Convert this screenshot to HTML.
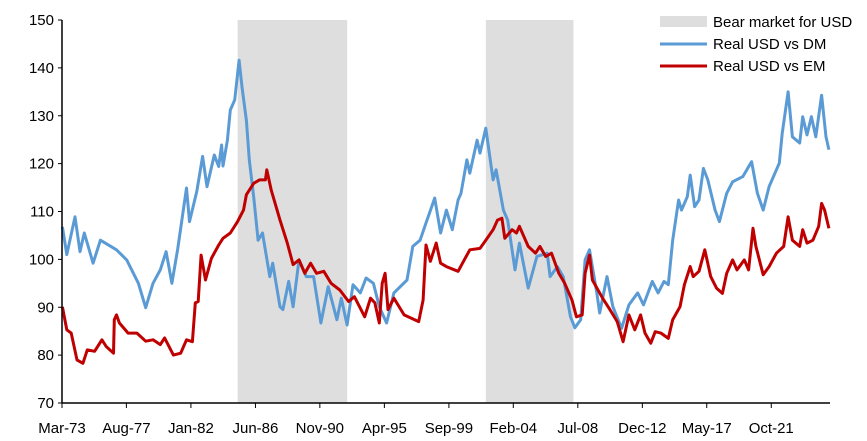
<!DOCTYPE html>
<html><head><meta charset="utf-8">
<style>
html,body{margin:0;padding:0;background:#fff;}
svg{display:block;font-family:"Liberation Sans",Arial,sans-serif;}
</style></head>
<body>
<svg id="chart" width="867" height="441" viewBox="0 0 867 441" xmlns="http://www.w3.org/2000/svg">
<g id="bands"></g>
<g id="series"></g>
<g id="axes"></g>
<g id="legend"></g>
</svg>
<script>
const yTicks = [70, 80, 90, 100, 110, 120, 130, 140, 150];
const xTickLabels = ["Mar-73","Aug-77","Jan-82","Jun-86","Nov-90","Apr-95","Sep-99","Feb-04","Jul-08","Dec-12","May-17","Oct-21"];
const xTickYears = [1973.17,1977.58,1982.0,1986.42,1990.83,1995.25,1999.67,2004.08,2008.5,2012.92,2017.33,2021.75];
const bearStarts = [1985.2, 2002.2];
const bearEnds = [1992.7, 2008.2];
const dmYears = [1973.2,1973.5,1974.06,1974.4,1974.7,1975.3,1975.8,1976.9,1977.6,1978.4,1978.9,1979.4,1979.9,1980.3,1980.7,1981.1,1981.7,1981.9,1982.4,1982.8,1983.1,1983.6,1983.9,1984.1,1984.2,1984.5,1984.7,1985.0,1985.3,1985.5,1985.8,1986.0,1986.3,1986.6,1986.9,1987.4,1987.6,1988.1,1988.3,1988.7,1989.0,1989.4,1989.9,1990.4,1990.9,1991.4,1992.0,1992.3,1992.7,1993.1,1993.6,1994.0,1994.5,1994.9,1995.4,1995.9,1996.8,1997.2,1997.7,1998.1,1998.7,1999.1,1999.5,1999.9,2000.3,2000.5,2000.9,2001.1,2001.6,2001.8,2002.2,2002.7,2002.9,2003.4,2003.7,2004.2,2004.5,2005.1,2005.7,2006.4,2006.6,2007.1,2007.5,2008.0,2008.3,2008.7,2009.0,2009.3,2009.8,2010.0,2010.5,2010.9,2011.5,2012.0,2012.6,2013.0,2013.6,2014.0,2014.4,2014.7,2015.0,2015.4,2015.6,2016.0,2016.2,2016.5,2016.8,2017.1,2017.4,2017.9,2018.2,2018.7,2019.1,2019.8,2020.4,2020.8,2021.2,2021.6,2022.1,2022.3,2022.5,2022.9,2023.2,2023.7,2023.9,2024.2,2024.5,2024.8,2025.2,2025.5,2025.7];
const dmValues = [106.8,101,108.9,101.6,105.5,99.2,104,102,99.9,95,89.9,95,97.8,101.6,95,102.3,114.9,107.9,114.2,121.5,115.2,121.8,119.4,123.9,119.5,124.9,131.2,133.3,141.6,136,129,120.8,113,104,105.5,96.4,99.2,90.1,89.5,95.4,90.1,99.9,96.4,96.4,86.7,94.3,87.4,91.9,86.3,94.7,93,96.1,95,90.1,86.7,93,95.7,102.7,104,107.6,112.8,105.5,110.3,106.2,112.4,113.8,120.8,118,124.9,122.2,127.4,116.6,118.7,110.3,108.2,97.8,103.4,94,100.6,101.3,96.4,98.5,96.4,88,85.7,87.4,99.9,102,93,88.8,96.4,90.1,85.6,90.5,93,90.5,95.4,93,95.4,94.7,104,112.4,110.3,113.1,117.6,111,112.4,119,116.6,110.3,107.9,113.8,116.2,117.3,120.4,113.8,110.3,115.2,118.7,120.1,126.3,135,125.6,124.3,129.8,126,129.8,125.6,134.3,125.6,122.9];
const emYears = [1973.2,1973.5,1973.8,1974.2,1974.6,1974.9,1975.4,1975.9,1976.2,1976.7,1976.75,1976.9,1977.1,1977.7,1978.3,1978.9,1979.4,1979.9,1980.2,1980.8,1981.3,1981.7,1982.1,1982.3,1982.5,1982.7,1983.0,1983.4,1983.9,1984.2,1984.7,1985.2,1985.6,1985.8,1986.3,1986.7,1987.1,1987.2,1987.5,1988.1,1988.6,1989.0,1989.4,1989.8,1990.2,1990.6,1991.1,1991.6,1992.2,1992.8,1993.2,1993.9,1994.3,1994.6,1994.9,1995.1,1995.3,1995.5,1995.9,1996.6,1997.6,1997.9,1998.1,1998.4,1998.8,1999.1,1999.5,2000.3,2000.6,2001.1,2001.8,2002.2,2002.7,2003.0,2003.3,2003.5,2004.0,2004.3,2004.5,2005.1,2005.6,2005.9,2006.3,2006.7,2007.2,2007.6,2008.1,2008.4,2008.8,2009.0,2009.3,2009.5,2010.2,2010.7,2011.2,2011.6,2012.0,2012.4,2012.8,2013.1,2013.5,2013.8,2014.2,2014.7,2015.0,2015.5,2015.8,2016.2,2016.4,2016.8,2017.2,2017.6,2018.0,2018.4,2018.7,2019.1,2019.4,2019.9,2020.2,2020.5,2020.7,2021.2,2021.6,2022.1,2022.6,2022.9,2023.2,2023.7,2023.9,2024.2,2024.6,2025.0,2025.2,2025.4,2025.7];
const emValues = [90.1,85.3,84.6,79,78.3,81.1,80.8,83.2,81.8,80.4,87.4,88.4,86.7,84.6,84.6,82.9,83.2,82.2,83.6,80,80.4,83.2,82.8,90.9,91.2,100.9,95.7,100.2,103,104.4,105.5,107.9,110.3,113.5,115.9,116.6,116.6,118.7,114.5,108.2,103.4,98.9,99.9,97.1,99.2,97.1,97.5,95,93.6,91.2,92.2,88,91.9,90.9,86.7,95,97.1,89.5,91.9,88.4,87,91.5,103,99.6,103.4,99.2,98.5,97.5,99.2,102,102.3,104,106.2,108.2,108.6,104.4,106.2,105.5,106.9,102.7,101.3,102.7,100.6,101.3,97.1,95,91.5,88,88.4,97.1,100.9,95.7,91.9,89.5,87,82.8,88.4,85.3,88.4,84.6,82.5,84.9,84.6,83.5,87.4,90.1,94.7,98.5,96.4,97.5,102,96.4,94,92.9,97.1,99.9,97.8,99.9,97.8,106.5,102.7,96.8,98.5,101.3,102.7,108.9,104,102.7,106.2,103.4,104,106.9,111.7,110.3,106.5];

const NS = "http://www.w3.org/2000/svg";
const X0 = 62, X1 = 830, Y0 = 403, Y1 = 20;
const yMin = 70, yMax = 150;
const xYear0 = 1973.17, pxPerYear = 14.6;
function xs(yr){ return X0 + (yr - xYear0) * pxPerYear; }
function ys(v){ return Y0 - (v - yMin) / (yMax - yMin) * (Y0 - Y1); }
function mk(tag, attrs, parent){
  const e = document.createElementNS(NS, tag);
  for (const k in attrs) e.setAttribute(k, attrs[k]);
  parent.appendChild(e);
  return e;
}
const bands = document.getElementById('bands');
for (let i = 0; i < bearStarts.length; i++){
  const r = mk('rect', {x: xs(bearStarts[i]), y: Y1, width: xs(bearEnds[i]) - xs(bearStarts[i]), height: Y0 - Y1, fill: '#dedede'}, bands);
  
  
}
const series = document.getElementById('series');
function line(yrs, vals, color, name){
  const d = yrs.map((y, i) => (i ? 'L' : 'M') + xs(y).toFixed(1) + ',' + ys(vals[i]).toFixed(1)).join(' ');
  const p = mk('path', {d: d, fill: 'none', stroke: color, 'stroke-width': 3, 'stroke-linejoin': 'round'}, series);
  
  
}
line(dmYears, dmValues, '#5b9bd5', 'real-usd-vs-dm-line');
line(emYears, emValues, '#c00000', 'real-usd-vs-em-line');

const axes = document.getElementById('axes');
mk('line', {x1: X0, y1: Y1, x2: X0, y2: Y0, stroke: '#000', 'stroke-width': 1.5}, axes);
mk('line', {x1: X0, y1: Y0, x2: X1, y2: Y0, stroke: '#000', 'stroke-width': 1.5}, axes);
yTicks.forEach(v => {
  mk('line', {x1: X0 - 4, y1: ys(v), x2: X0, y2: ys(v), stroke: '#000', 'stroke-width': 1}, axes);
  const t = mk('text', {x: X0 - 8, y: ys(v) + 5, 'text-anchor': 'end', 'font-size': 15, fill: '#000'}, axes);
  t.textContent = v;
  
  
});
xTickYears.forEach((yr, i) => {
  mk('line', {x1: xs(yr), y1: Y0, x2: xs(yr), y2: Y0 + 5, stroke: '#000', 'stroke-width': 1}, axes);
  const t = mk('text', {x: xs(yr), y: 433, 'text-anchor': 'middle', 'font-size': 15, fill: '#000'}, axes);
  t.textContent = xTickLabels[i];
  
  
});

const legend = document.getElementById('legend');
const labels = ["Bear market for USD", "Real USD vs DM", "Real USD vs EM"];
const lys = [22, 44, 66];
const r0 = mk('rect', {x: 660, y: 16, width: 47, height: 11, fill: '#dedede'}, legend);


const l1 = mk('line', {x1: 660, y1: 44, x2: 707, y2: 44, stroke: '#5b9bd5', 'stroke-width': 3}, legend);


const l2 = mk('line', {x1: 660, y1: 66, x2: 707, y2: 66, stroke: '#c00000', 'stroke-width': 3}, legend);


labels.forEach((s, i) => {
  const t = mk('text', {x: 713, y: lys[i] + 5, 'font-size': 15, fill: '#000'}, legend);
  t.textContent = s;
  
  
});
</script>
</body></html>
